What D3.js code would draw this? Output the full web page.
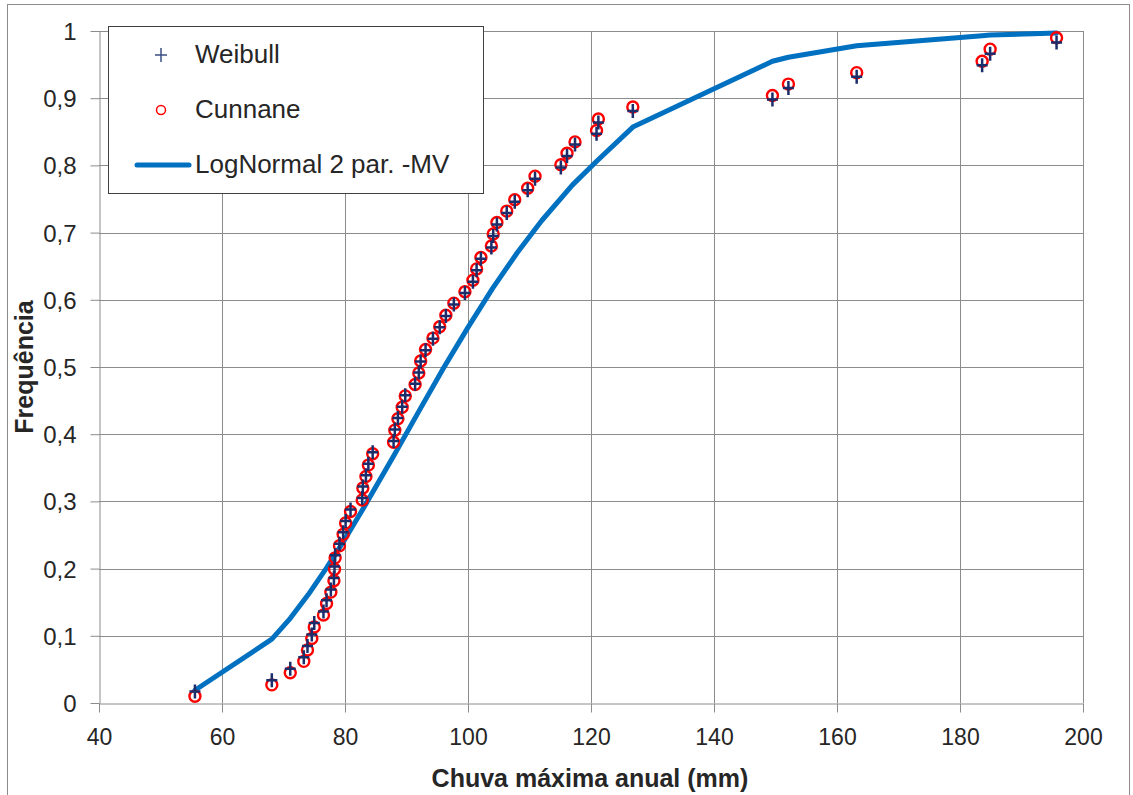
<!DOCTYPE html>
<html>
<head>
<meta charset="utf-8">
<script src="https://cdn.jsdelivr.net/npm/d3@7"></script>
<style>
  body { margin: 0; background: #fff; }
  #chart { width: 1133px; height: 795px; }
  text { font-family: 'Liberation Sans', Arial, sans-serif; fill: #262626; }
  .grid line { stroke: #8c8c8c; stroke-width: 1; }
  .axis path, .axis line { stroke: #8c8c8c; stroke-width: 1; }
</style>
</head>
<body>
<div id="chart"></div>
<script>
// chuva maxima anual (mm), ordenada
var rain = [55.6, 68.1, 71.1, 73.3, 73.9, 74.6, 75.0, 76.5, 77.0, 77.7,
  78.2, 78.3, 78.4, 79.1, 79.7, 80.1, 80.9, 82.8, 82.9, 83.4,
  83.8, 84.5, 87.9, 88.1, 88.6, 89.3, 89.8, 91.4, 92.0, 92.3,
  93.1, 94.3, 95.4, 96.4, 97.7, 99.5, 100.8, 101.4, 102.1, 103.8,
  104.1, 104.7, 106.3, 107.6, 109.7, 110.9, 115.1, 116.1, 117.4, 120.9,
  121.2, 126.8, 149.5, 152.1, 163.2, 183.6, 184.9, 195.7]

var weibull = [0.017, 0.034, 0.051, 0.068, 0.085, 0.102, 0.119, 0.136, 0.153, 0.169,
  0.186, 0.203, 0.220, 0.237, 0.254, 0.271, 0.288, 0.305, 0.322, 0.339,
  0.356, 0.373, 0.390, 0.407, 0.424, 0.441, 0.458, 0.475, 0.492, 0.508,
  0.525, 0.542, 0.559, 0.576, 0.593, 0.610, 0.627, 0.644, 0.661, 0.678,
  0.695, 0.712, 0.729, 0.746, 0.763, 0.780, 0.797, 0.814, 0.831, 0.847,
  0.864, 0.881, 0.898, 0.915, 0.932, 0.949, 0.966, 0.983]

var cunnane = [0.010, 0.027, 0.045, 0.062, 0.079, 0.096, 0.113, 0.131, 0.148, 0.165,
  0.182, 0.199, 0.216, 0.234, 0.251, 0.268, 0.285, 0.302, 0.320, 0.337,
  0.354, 0.371, 0.388, 0.406, 0.423, 0.440, 0.457, 0.474, 0.491, 0.509,
  0.526, 0.543, 0.560, 0.577, 0.595, 0.612, 0.629, 0.646, 0.663, 0.680,
  0.698, 0.715, 0.732, 0.749, 0.766, 0.784, 0.801, 0.818, 0.835, 0.852,
  0.869, 0.887, 0.904, 0.921, 0.938, 0.955, 0.973, 0.990]

// curva LogNormal 2 par. (MV)
var lnX = [55.6, 68.1, 71.1, 74.0, 77.0, 80.0, 83.0, 88.0, 92.0, 96.0,
  100.0, 104.0, 108.0, 112.0, 117.0, 121.0, 126.8, 149.5, 152.1, 163.2,
  183.6, 184.9, 195.7]
var lnF = [0.019, 0.095, 0.126, 0.161, 0.201, 0.244, 0.290, 0.369, 0.434, 0.498,
  0.559, 0.617, 0.670, 0.718, 0.771, 0.807, 0.857, 0.955, 0.961, 0.978,
  0.993, 0.994, 0.997]

var xTicks = [40, 60, 80, 100, 120, 140, 160, 180, 200]
var yTicks = [0, 0.1, 0.2, 0.3, 0.4, 0.5, 0.6, 0.7, 0.8, 0.9, 1]

var legendLabels = ['Weibull', 'Cunnane', 'LogNormal 2 par. -MV']

var plotLeft = 99
var plotRight = 1083
var plotTop = 31
var plotBottom = 703

var svg = d3.select('#chart').append('svg')
  .attr('width', 1133)
  .attr('height', 795)

svg.append('rect')
  .attr('x', 7.5).attr('y', 4.5)
  .attr('width', 1122).attr('height', 800)
  .attr('fill', '#fff')
  .attr('stroke', '#8c8c8c')

var x = d3.scaleLinear().domain([40, 200]).range([plotLeft, plotRight])
var y = d3.scaleLinear().domain([0, 1]).range([plotBottom, plotTop])

var fmt = function (d) { return d3.format('.1~f')(d).replace('.', ',') }

// grade
var grid = svg.append('g').attr('class', 'grid')
grid.selectAll('line.h').data(yTicks.slice(1)).enter().append('line')
  .attr('class', 'h')
  .attr('x1', plotLeft).attr('x2', plotRight)
  .attr('y1', function (d) { return Math.round(y(d)) + 0.5 })
  .attr('y2', function (d) { return Math.round(y(d)) + 0.5 })
grid.selectAll('line.v').data(xTicks.slice(1)).enter().append('line')
  .attr('class', 'v')
  .attr('y1', plotBottom).attr('y2', plotTop)
  .attr('x1', function (d) { return Math.round(x(d)) + 0.5 })
  .attr('x2', function (d) { return Math.round(x(d)) + 0.5 })

var xAxis = d3.axisBottom(x).tickValues(xTicks).tickSize(9).tickSizeOuter(0).tickPadding(16)
var yAxis = d3.axisLeft(y).tickValues(yTicks).tickSize(9).tickSizeOuter(0).tickPadding(14).tickFormat(fmt)

svg.append('g')
  .attr('class', 'x axis')
  .attr('transform', 'translate(0,' + (plotBottom + 0.5) + ')')
  .call(xAxis)
  .selectAll('text')
  .style('font-size', '23px')

svg.append('g')
  .attr('class', 'y axis')
  .attr('transform', 'translate(' + (plotLeft + 0.5) + ',0)')
  .call(yAxis)
  .selectAll('text')
  .style('font-size', '24px')
  .attr('dy', '0.35em')

svg.selectAll('.axis text').attr('fill', '#262626')

// titulos
svg.append('text')
  .attr('x', 590).attr('y', 787)
  .attr('text-anchor', 'middle')
  .style('font-size', '25px')
  .style('font-weight', 'bold')
  .attr('fill', '#000')
  .text('Chuva máxima anual (mm)')

svg.append('text')
  .attr('transform', 'translate(33,367) rotate(-90)')
  .attr('text-anchor', 'middle')
  .style('font-size', '25px')
  .style('font-weight', 'bold')
  .attr('fill', '#000')
  .text('Frequência')

// curva
var line = d3.line()
  .x(function (d, i) { return x(lnX[i]) })
  .y(function (d) { return y(d) })

svg.append('path')
  .datum(lnF)
  .attr('d', line)
  .attr('fill', 'none')
  .attr('stroke', '#0070c0')
  .attr('stroke-width', 5)
  .attr('stroke-linejoin', 'round')
  .attr('stroke-linecap', 'round')

// Cunnane
svg.append('g').selectAll('circle').data(cunnane).enter().append('circle')
  .attr('cx', function (d, i) { return x(rain[i]) })
  .attr('cy', function (d) { return y(d) })
  .attr('r', 5.5)
  .attr('fill', 'none')
  .attr('stroke', '#ff0000')
  .attr('stroke-width', 2.4)

// Weibull
svg.append('g').selectAll('path').data(weibull).enter().append('path')
  .attr('transform', function (d, i) { return 'translate(' + x(rain[i]) + ',' + y(d) + ')' })
  .attr('d', 'M-5.5,0H5.5M0,-7V7')
  .attr('stroke', '#1c2d6b')
  .attr('stroke-width', 2.5)

// legenda
var legend = svg.append('g')
legend.append('rect')
  .attr('x', 108.5).attr('y', 26.5)
  .attr('width', 375).attr('height', 167)
  .attr('fill', '#fff')
  .attr('stroke', '#404040')

legend.append('path')
  .attr('d', 'M155,55H167M161,48V62')
  .attr('stroke', '#3a4f85')
  .attr('stroke-width', 1.5)
legend.append('circle')
  .attr('cx', 161).attr('cy', 110).attr('r', 4.5)
  .attr('fill', 'none')
  .attr('stroke', '#ff0000')
  .attr('stroke-width', 1.5)
legend.append('line')
  .attr('x1', 137).attr('x2', 189)
  .attr('y1', 165).attr('y2', 165)
  .attr('stroke', '#0070c0')
  .attr('stroke-width', 5)
  .attr('stroke-linecap', 'round')

legend.selectAll('text').data(legendLabels).enter().append('text')
  .attr('x', 195)
  .attr('y', function (d, i) { return 63 + i * 55 })
  .style('font-size', '26px')
  .attr('fill', '#000')
  .text(function (d) { return d })
</script>
</body>
</html>
